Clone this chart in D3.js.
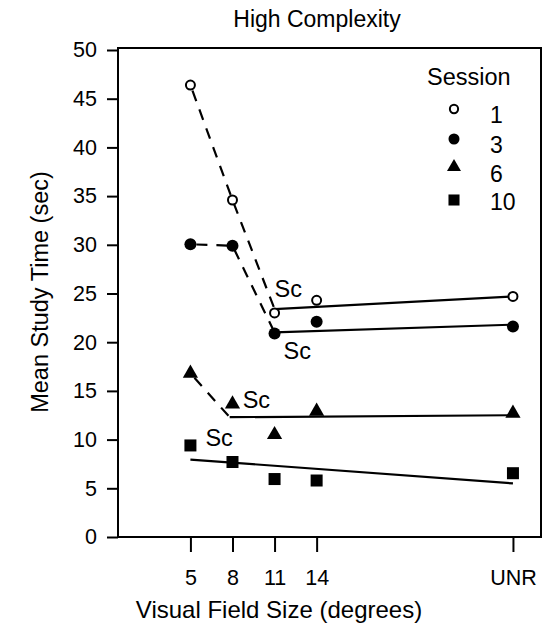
<!DOCTYPE html>
<html>
<head>
<meta charset="utf-8">
<script src="https://cdn.jsdelivr.net/npm/d3@7"></script>
<style>
  body { margin: 0; background: #fff; }
  svg text { font-family: "Liberation Sans", Arial, Helvetica, sans-serif; fill: #000; }
</style>
</head>
<body>
<svg id="chart" width="545" height="628"></svg>
<script>
// field sizes (UNR plotted at 28)
const fieldSizes = [5, 8, 11, 14, 28];
const tickLabels = ["5", "8", "11", "14", "UNR"];
const yTicks = [0, 5, 10, 15, 20, 25, 30, 35, 40, 45, 50];

// mean study time per session
const session1 = [46.4, 34.6, 23.0, 24.3, 24.7];
const session3 = [30.05, 29.9, 20.9, 22.1, 21.6];
const session6 = [16.8, 13.65, 10.5, 12.9, 12.7];
const session10 = [9.4, 7.7, 5.95, 5.8, 6.55];

// dashed descending segments (before Sc)
const dash1 = [[5, 46.4], [8, 34.6], [11, 23.4]];
const dash3 = [[5, 30.05], [8, 29.9], [11, 21.0]];
const dash6 = [[5, 16.8], [7.8, 12.3]];

// solid fitted lines (after Sc)
const fit1 = [[11, 23.4], [28, 24.7]];
const fit3 = [[11, 21.0], [28, 21.8]];
const fit6 = [[7.8, 12.3], [28, 12.5]];
const fit10 = [[5, 7.95], [28, 5.5]];

// Sc points
const scPoints = [[11, 23.4], [11, 21.0], [7.8, 12.3], [5, 9.4]];
const legendLabels = ["1", "3", "6", "10"];

const svg = d3.select("#chart");

const x = d3.scaleLinear().domain([0, 30]).range([120.3, 541]);
const y = d3.scaleLinear().domain([0, 50]).range([537, 50]);

// frame
svg.append("rect")
    .attr("x", 118).attr("y", 48)
    .attr("width", 541 - 118).attr("height", 537 - 48)
    .attr("fill", "none").attr("stroke", "#000").attr("stroke-width", 2);

// axes
const yAxis = svg.append("g")
    .attr("transform", "translate(118,0)")
    .call(d3.axisLeft(y).tickValues(yTicks).tickSize(11).tickPadding(10));
yAxis.select(".domain").remove();
yAxis.selectAll("line").attr("stroke-width", 2);
yAxis.selectAll("text").attr("font-size", 21.5).attr("font-family", "Liberation Sans, Arial, sans-serif");

const xAxis = svg.append("g")
    .attr("transform", "translate(0,537)")
    .call(d3.axisBottom(x).tickValues(fieldSizes).tickSize(15).tickPadding(18)
        .tickFormat((d, i) => tickLabels[i]));
xAxis.select(".domain").remove();
xAxis.selectAll("line").attr("stroke-width", 2);
xAxis.selectAll("text").attr("font-size", 21.5).attr("font-family", "Liberation Sans, Arial, sans-serif");

// titles
svg.append("text").attr("x", 317).attr("y", 27).attr("text-anchor", "middle")
    .attr("font-size", 23).text("High Complexity");
svg.append("text").attr("x", 279).attr("y", 618).attr("text-anchor", "middle")
    .attr("font-size", 24).text("Visual Field Size (degrees)");
svg.append("text").attr("transform", "translate(48,292) rotate(-90)").attr("text-anchor", "middle")
    .attr("font-size", 23.5).text("Mean Study Time (sec)");

// lines
const line = d3.line().x(d => x(d[0])).y(d => y(d[1]));
[dash1, dash3, dash6].forEach(d => {
    svg.append("path").datum(d).attr("d", line)
        .attr("fill", "none").attr("stroke", "#000").attr("stroke-width", 2.2)
        .attr("stroke-dasharray", "11,9").attr("stroke-dashoffset", -6);
});
[fit1, fit3, fit6, fit10].forEach(d => {
    svg.append("path").datum(d).attr("d", line)
        .attr("fill", "none").attr("stroke", "#000").attr("stroke-width", 2.2);
});

// markers
const tri = d3.symbol().type(d3.symbolTriangle).size(100);
function drawMarker(g, kind, cx, cy, scale) {
    if (kind === "open") {
        g.append("circle").attr("cx", cx).attr("cy", cy).attr("r", 4.5 * scale)
            .attr("fill", "#fff").attr("stroke", "#000").attr("stroke-width", 2);
    } else if (kind === "filled") {
        g.append("circle").attr("cx", cx).attr("cy", cy).attr("r", 6 * scale).attr("fill", "#000");
    } else if (kind === "tri") {
        g.append("path").attr("d", tri).attr("transform", `translate(${cx},${cy}) scale(${scale})`).attr("fill", "#000");
    } else {
        const s = 12 * scale;
        g.append("rect").attr("x", cx - s / 2).attr("y", cy - s / 2).attr("width", s).attr("height", s).attr("fill", "#000");
    }
}

const series = [
    { vals: session1, kind: "open" },
    { vals: session3, kind: "filled" },
    { vals: session6, kind: "tri" },
    { vals: session10, kind: "square" }
];
const marks = svg.append("g");
series.forEach(s => {
    s.vals.forEach((v, i) => drawMarker(marks, s.kind, x(fieldSizes[i]), y(v), 1));
});

// Sc labels
const scOffsets = [[0, -12], [9, 27], [13, -9], [15, 1]];
scPoints.forEach((p, i) => {
    svg.append("text")
        .attr("x", x(p[0]) + scOffsets[i][0])
        .attr("y", y(p[1]) + scOffsets[i][1])
        .attr("font-size", 23.5).text("Sc");
});

// legend
const legend = svg.append("g");
legend.append("text").attr("x", 427).attr("y", 85).attr("font-size", 23.5).text("Session");
const legendY = [109, 139, 167, 200];
const legendTextY = [123, 152.7, 181.7, 210];
series.forEach((s, i) => {
    drawMarker(legend, s.kind, 454, legendY[i], 0.92);
    legend.append("text").attr("x", 490).attr("y", legendTextY[i])
        .attr("font-size", 23).text(legendLabels[i]);
});
</script>
</body>
</html>
